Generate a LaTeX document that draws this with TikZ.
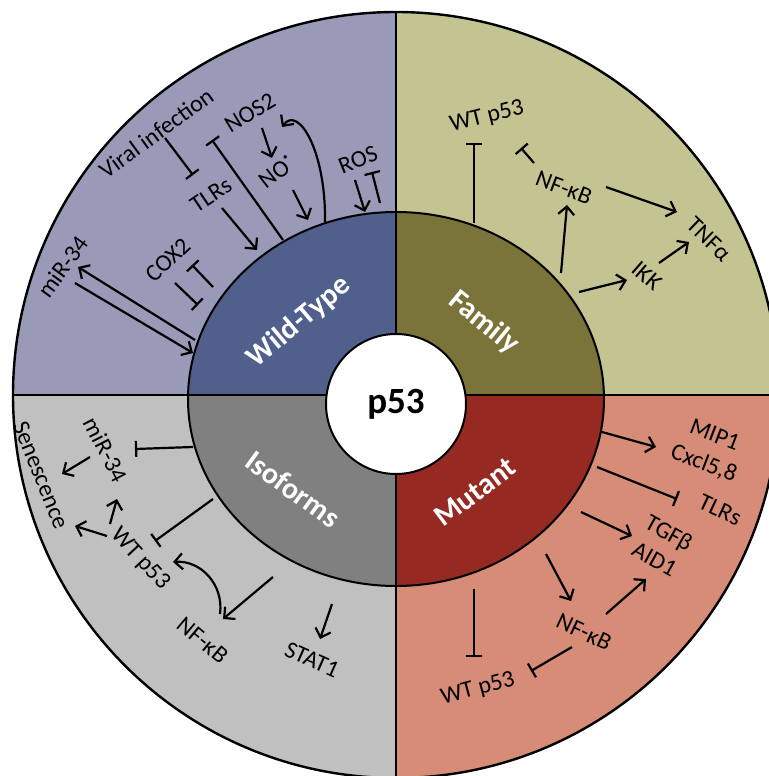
\documentclass[tikz,border=0pt]{standalone}
\usepackage{fontspec}
\setmainfont{Carlito}
\usetikzlibrary{arrows.meta}

\definecolor{wtOut}{RGB}{152,154,184}
\definecolor{wtIn}{RGB}{80,95,140}
\definecolor{famOut}{RGB}{196,195,146}
\definecolor{famIn}{RGB}{122,115,58}
\definecolor{isoOut}{RGB}{192,192,192}
\definecolor{isoIn}{RGB}{128,128,128}
\definecolor{mutOut}{RGB}{214,140,118}
\definecolor{mutIn}{RGB}{150,42,34}

\tikzset{
    lbl/.style={font=\fontsize{12}{15}\selectfont, inner sep=1pt, align=center},
    sect/.style={font=\fontsize{15}{17}\selectfont\bfseries, text=white, inner sep=1pt},
    act/.style={line width=1.1pt, -{Straight Barb[length=4pt,width=8pt]}},
    inh/.style={line width=1.1pt, -{Bar[width=8pt]}}
}

\begin{document}
\begin{tikzpicture}[x=0.5pt,y=0.5pt]
        \useasboundingbox (-396,395) rectangle (372,-381);
        % Outer quadrants
        \begin{scope}
            \clip (0,0) circle (383);
            \fill[wtOut] (0,0) rectangle (-400,400);
            \fill[famOut] (0,0) rectangle (400,400);
            \fill[isoOut] (0,0) rectangle (-400,-400);
            \fill[mutOut] (0,0) rectangle (400,-400);
        \end{scope}
        % Inner ring
        \begin{scope}
            \clip (0,-4) ellipse (208 and 187);
            \fill[wtIn] (0,0) rectangle (-210,200);
            \fill[famIn] (0,0) rectangle (210,200);
            \fill[isoIn] (0,0) rectangle (-210,-200);
            \fill[mutIn] (0,0) rectangle (210,-200);
        \end{scope}
        \draw[line width=1.2pt] (0,0) circle (383);
        \draw[line width=1pt] (0,-4) ellipse (208 and 187);
        \draw[line width=1pt] (-383,0) -- (383,0) (0,383) -- (0,-383);
        \node[circle,draw,line width=1pt,fill=white,minimum size=70pt,inner sep=0pt,
            font=\fontsize{18.5}{20}\selectfont\bfseries] (core) at (0,-9) {p53};

        % Sector titles
        \node[sect,rotate=40] (wtSec) at (-97,73) {Wild-Type};
        \node[sect,rotate=-39] (famSec) at (88,72) {Family};
        \node[sect,rotate=-36] (isoSec) at (-103,-94) {Isoforms};
        \node[sect,rotate=37] (mutSec) at (79,-97) {Mutant};

        % Wild-Type quadrant
        \node[lbl,rotate=36] (virW) at (-240,262) {Viral infection};
        \node[lbl,rotate=31] (nosW) at (-146,282) {NOS2};
        \node[lbl,rotate=34] (tlrW) at (-185,200) {TLRs};
        \node[lbl,rotate=38] (noW) at (-119,223) {NO\raisebox{.6ex}{·}};
        \node[lbl,rotate=22] (rosW) at (-38,235) {ROS};
        \node[lbl,rotate=43] (coxW) at (-228,135) {COX2};
        \node[lbl,rotate=54] (mirW) at (-333,128) {miR-34};
        \coordinate (vir1) at (-231,257); \coordinate (tlr1) at (-203,220);
        \draw[inh] (vir1) -- (tlr1);
        \coordinate (wt2) at (-113,155); \coordinate (nos2) at (-184,255);
        \draw[inh] (wt2) -- (nos2);
        \coordinate (nos3) at (-134,267); \coordinate (no3) at (-124,237);
        \draw[act] (nos3) -- (no3);
        \coordinate (no4) at (-103,205); \coordinate (wt4) at (-88,175);
        \draw[act] (no4) -- (wt4);
        \coordinate (wt5) at (-71,173); \coordinate (nos5) at (-114,268);
        \draw[act] (wt5) .. controls (-70,245) and (-98,290) .. (nos5);
        \coordinate (tlr6) at (-174,187); \coordinate (wt6) at (-139,145);
        \draw[act] (tlr6) -- (wt6);
        \coordinate (wt7) at (-183,108); \coordinate (cox7) at (-204,130);
        \draw[inh] (wt7) -- (cox7);
        \coordinate (cox8) at (-221,112); \coordinate (wt8) at (-198,90);
        \draw[inh] (cox8) -- (wt8);
        \coordinate (wt9) at (-201,55); \coordinate (mir9) at (-318,128);
        \draw[act] (wt9) -- (mir9);
        \coordinate (mir10) at (-321,112); \coordinate (wt10) at (-203,42);
        \draw[act] (mir10) -- (wt10);
        \coordinate (ros11) at (-41,215); \coordinate (wt11) at (-31,183);
        \draw[act] (ros11) -- (wt11);
        \coordinate (wt12) at (-16,192); \coordinate (ros12) at (-24,223);
        \draw[inh] (wt12) -- (ros12);

        % Family quadrant
        \node[lbl,rotate=14] (wtF) at (91,278) {WT p53};
        \node[lbl,rotate=-21] (nfF) at (168,207) {NF-κB};
        \node[lbl,rotate=-44] (tnfF) at (313,156) {TNFα};
        \node[lbl,rotate=-41] (ikkF) at (251,119) {IKK};
        \coordinate (fam1) at (78,172); \coordinate (wtF1) at (78,252);
        \draw[inh] (fam1) -- (wtF1);
        \coordinate (nfF2) at (138,232); \coordinate (wtF2) at (125,247);
        \draw[inh] (nfF2) -- (wtF2);
        \coordinate (fam3) at (165,122); \coordinate (nfF3) at (171,190);
        \draw[act] (fam3) -- (nfF3);
        \coordinate (nfF4) at (210,208); \coordinate (tnfF4) at (281,183);
        \draw[act] (nfF4) -- (tnfF4);
        \coordinate (fam5) at (183,103); \coordinate (ikkF5) at (231,115);
        \draw[act] (fam5) -- (ikkF5);
        \coordinate (ikkF6) at (263,132); \coordinate (tnfF6) at (293,153);
        \draw[act] (ikkF6) -- (tnfF6);

        % Isoforms quadrant
        \node[lbl,rotate=-68] (senI) at (-355,-80) {Senescence};
        \node[lbl,rotate=-63] (mirI) at (-290,-55) {miR-34};
        \node[lbl,rotate=-47] (wtI) at (-256,-164) {WT p53};
        \node[lbl,rotate=-40] (nfI) at (-193,-245) {NF-κB};
        \node[lbl,rotate=-24] (stI) at (-84,-265) {STAT1};
        \coordinate (iso1) at (-203,-52); \coordinate (mirI1) at (-261,-54);
        \draw[inh] (iso1) -- (mirI1);
        \coordinate (mirI2) at (-306,-62); \coordinate (senI2) at (-334,-79);
        \draw[act] (mirI2) -- (senI2);
        \coordinate (wtI3) at (-286,-129); \coordinate (mirI3) at (-279,-104);
        \draw[act] (wtI3) -- (mirI3);
        \coordinate (wtI4) at (-289,-141); \coordinate (senI4) at (-321,-131);
        \draw[act] (wtI4) -- (senI4);
        \coordinate (iso5) at (-183,-104); \coordinate (wtI5) at (-241,-146);
        \draw[inh] (iso5) -- (wtI5);
        \coordinate (nfI6) at (-176,-219); \coordinate (wtI6) at (-223,-167);
        \draw[act] (nfI6) .. controls (-172,-190) and (-195,-165) .. (wtI6);
        \coordinate (iso7) at (-123,-182); \coordinate (nfI7) at (-173,-224);
        \draw[act] (iso7) -- (nfI7);
        \coordinate (iso8) at (-64,-209); \coordinate (stI8) at (-76,-244);
        \draw[act] (iso8) -- (stI8);

        % Mutant quadrant
        \node[lbl,rotate=-21] (mipM) at (313,-55) {MIP1\\Cxcl5,8};
        \node[lbl,rotate=-25] (tlrM) at (324,-115) {TLRs};
        \node[lbl,rotate=-29] (tgfM) at (266,-151) {TGFβ\\AID1};
        \node[lbl,rotate=-25] (nfM) at (188,-237) {NF-κB};
        \node[lbl,rotate=15] (wtM) at (82,-294) {WT p53};
        \coordinate (mut1) at (206,-37); \coordinate (mipM1) at (260,-52);
        \draw[act] (mut1) -- (mipM1);
        \coordinate (mut2) at (201,-72); \coordinate (tlrM2) at (281,-104);
        \draw[inh] (mut2) -- (tlrM2);
        \coordinate (mut3) at (185,-117); \coordinate (tgfM3) at (236,-141);
        \draw[act] (mut3) -- (tgfM3);
        \coordinate (mut4) at (150,-159); \coordinate (nfM4) at (175,-206);
        \draw[act] (mut4) -- (nfM4);
        \coordinate (nfM5) at (210,-219); \coordinate (tgfM5) at (250,-184);
        \draw[act] (nfM5) -- (tgfM5);
        \coordinate (nfM6) at (176,-252); \coordinate (wtM6) at (135,-276);
        \draw[inh] (nfM6) -- (wtM6);
        \coordinate (mut7) at (78,-194); \coordinate (wtM7) at (78,-262);
        \draw[inh] (mut7) -- (wtM7);
\end{tikzpicture}
\end{document}
